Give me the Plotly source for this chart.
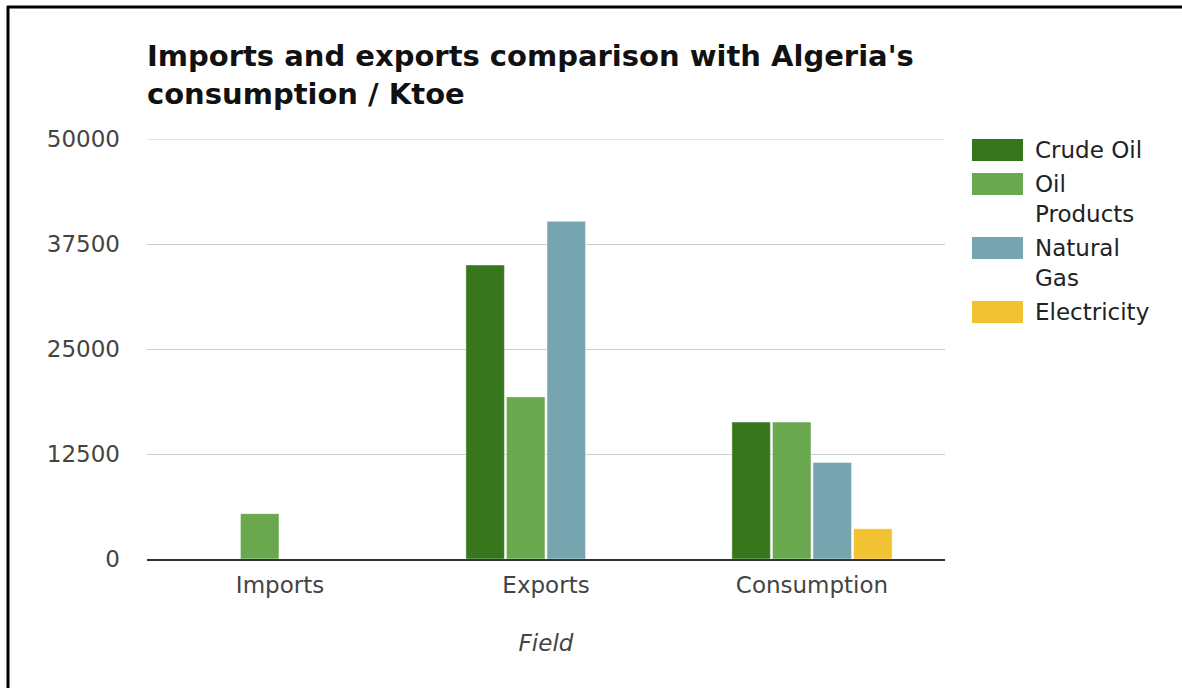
import plotly.graph_objects as go

# Energy balance of Algeria, in Ktoe
fields = ["Imports", "Exports", "Consumption"]
series_names = ["Crude Oil", "Oil Products", "Natural Gas", "Electricity"]
crude_oil = [0, 35000, 16300]
oil_products = [5400, 19300, 16300]
natural_gas = [0, 40200, 11500]
electricity = [0, 0, 3600]
y_ticks = [0, 12500, 25000, 37500, 50000]

colors = ["#38761d", "#6aa84f", "#76a5af", "#f1c232"]
values = [crude_oil, oil_products, natural_gas, electricity]

W, H = 1182, 688
ML, MR, MT, MB = 147, 237, 139, 129
PW, PH = W - ML - MR, H - MT - MB
FONT = "DejaVu Sans"
FS = 23


def px_x(px):
    return (px - ML) / PW


def px_y(py):
    return (H - MB - py) / PH


fig = go.Figure()
for name, vals, col in zip(series_names, values, colors):
    fig.add_trace(go.Bar(
        x=fields, y=vals, name=name,
        marker=dict(color=col, line=dict(color="rgba(255,255,255,0.45)", width=1)),
        showlegend=False,
    ))

# legend drawn as swatches + wrapped labels on the right
def wrap(label, limit=10):
    return label.replace(" ", "<br>") if len(label) > limit else label

shapes = []
annotations = []
top = 139
for name, col in zip(series_names, colors):
    text = wrap(name)
    lines = text.count("<br>") + 1
    shapes.append(dict(type="rect", xref="paper", yref="paper",
                       x0=px_x(972), x1=px_x(1023), y0=px_y(top), y1=px_y(top + 22),
                       fillcolor=col, line=dict(width=0)))
    annotations.append(dict(xref="paper", yref="paper", x=px_x(1033),
                            y=px_y(top + 11 + 14.5 * (lines - 1)),
                            xanchor="left", yanchor="middle", align="left",
                            text=text, showarrow=False,
                            font=dict(family=FONT, size=FS, color="#222")))
    top += 34 + 30 * (lines - 1)

# chart title
annotations.append(dict(xref="paper", yref="paper", x=px_x(145), y=px_y(75),
                        xanchor="left", yanchor="middle", align="left", showarrow=False,
                        text="Imports and exports comparison with Algeria's<br>consumption / Ktoe",
                        font=dict(family=FONT, size=29, color="#111", weight="bold")))

# top gridline sits on the plot edge, so draw it explicitly
shapes.append(dict(type="line", xref="paper", yref="y", x0=0, x1=1,
                   y0=y_ticks[-1], y1=y_ticks[-1], line=dict(color="#cccccc", width=1),
                   layer="below"))

# frame along the left and top edges of the page
shapes.append(dict(type="line", xref="paper", yref="paper",
                   x0=px_x(8), x1=px_x(8), y0=px_y(6), y1=px_y(H + 2),
                   line=dict(color="black", width=3)))
shapes.append(dict(type="line", xref="paper", yref="paper",
                   x0=px_x(7), x1=px_x(W + 2), y0=px_y(7), y1=px_y(7),
                   line=dict(color="black", width=3)))

fig.update_layout(
    width=W, height=H,
    margin=dict(l=ML, r=MR, t=MT, b=MB),
    paper_bgcolor="white", plot_bgcolor="white",
    barmode="group", bargap=0.39, bargroupgap=0.05,
    shapes=shapes, annotations=annotations,
    font=dict(family=FONT, size=FS, color="#444"),
)
fig.update_yaxes(range=[0, 50000], tickvals=y_ticks, ticktext=[str(v) for v in y_ticks],
                 showgrid=True, gridcolor="#cccccc", gridwidth=1, zeroline=False,
                 ticks="", ticklabelstandoff=26, fixedrange=True,
                 tickfont=dict(family=FONT, size=FS, color="#444"))
fig.update_xaxes(showline=True, linecolor="#333", linewidth=2, ticks="",
                 ticklabelstandoff=4,
                 tickfont=dict(family=FONT, size=FS, color="#444"),
                 title=dict(text="<i>Field</i>", standoff=38,
                            font=dict(family=FONT, size=FS, color="#444")))

fig.write_html("out.html")
